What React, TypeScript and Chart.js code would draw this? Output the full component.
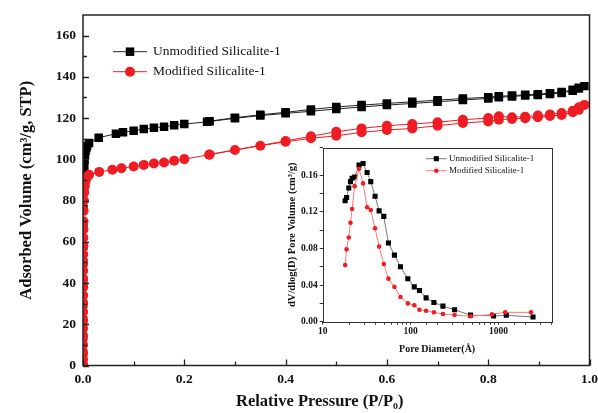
import React, { useEffect, useRef } from "react";
import { Chart, registerables } from "chart.js";

Chart.register(...registerables);

const SERIF = "'Liberation Serif', 'Times New Roman', Times, serif";

// ---------- Main plot: N2 adsorption / desorption isotherms ----------
const xTickValues = [0, 0.2, 0.4, 0.6, 0.8, 1.0];
const yTickValues = [0, 20, 40, 60, 80, 100, 120, 140, 160];
const seriesLabels = ["Unmodified Silicalite-1", "Modified Silicalite-1"];

const unmodAdsP = [0.00002, 0.00005, 0.0001, 0.00015, 0.0002, 0.0003, 0.0004, 0.0005, 0.0007, 0.0009, 0.0012, 0.0016, 0.002, 0.0025, 0.003, 0.004, 0.005, 0.0065, 0.008, 0.012, 0.031, 0.065, 0.079, 0.1, 0.12, 0.14, 0.16, 0.18, 0.2, 0.245, 0.3, 0.35, 0.4, 0.45, 0.5, 0.55, 0.6, 0.65, 0.7, 0.75, 0.8, 0.821, 0.847, 0.873, 0.898, 0.922, 0.945, 0.967, 0.979, 0.99];
const unmodAdsV = [1, 6, 14, 22, 30, 40, 50, 58, 68, 76, 84, 90, 94, 97, 99.5, 102, 104, 105.5, 106.5, 107.9, 110.5, 112.4, 113.1, 113.9, 114.7, 115.3, 115.8, 116.5, 117.1, 118.2, 119.9, 121.2, 122.3, 123.3, 124.4, 125.4, 126.3, 127.1, 127.9, 128.8, 129.5, 130.1, 130.5, 130.9, 131.2, 131.7, 132.2, 133.3, 134.3, 135.5];
const unmodDesP = [0.979, 0.967, 0.945, 0.922, 0.898, 0.873, 0.847, 0.821, 0.8, 0.75, 0.7, 0.65, 0.6, 0.55, 0.5, 0.45, 0.4, 0.35, 0.3, 0.25];
const unmodDesV = [134.7, 133.7, 132.6, 132.1, 131.6, 131.3, 130.9, 130.6, 130.1, 129.5, 128.7, 127.9, 127.1, 126.3, 125.4, 124.2, 122.8, 121.6, 120.2, 118.5];

const modAdsP = [0.00002, 0.00004, 0.00006, 0.00008, 0.0001, 0.00012, 0.00015, 0.00018, 0.00021, 0.00025, 0.0003, 0.00035, 0.0004, 0.00046, 0.00053, 0.0006, 0.0007, 0.0008, 0.001, 0.0013, 0.0018, 0.0025, 0.0035, 0.005, 0.007, 0.012, 0.032, 0.058, 0.076, 0.1, 0.12, 0.14, 0.16, 0.18, 0.2, 0.249, 0.3, 0.35, 0.4, 0.45, 0.5, 0.55, 0.6, 0.65, 0.7, 0.75, 0.8, 0.821, 0.847, 0.873, 0.898, 0.922, 0.945, 0.967, 0.979, 0.99];
const modAdsV = [0.5, 3, 6, 10, 14, 18, 22, 26, 30, 34, 38, 42, 46, 50, 54, 58, 62, 66, 70, 75, 80, 84, 87, 89.5, 91, 92.5, 93.9, 94.9, 95.7, 96.5, 97.3, 98, 98.5, 99.3, 100.1, 102.2, 104.5, 106.6, 108.5, 110.2, 111.4, 113.1, 114.2, 115.0, 116.3, 117.6, 118.4, 119.2, 119.6, 119.9, 120.4, 121.0, 121.5, 122.8, 124.0, 126.4];
const modDesP = [0.979, 0.967, 0.945, 0.922, 0.898, 0.873, 0.847, 0.821, 0.8, 0.75, 0.7, 0.65, 0.6, 0.55, 0.5, 0.45, 0.4, 0.25];
const modDesV = [125.3, 123.6, 122.5, 121.8, 121.2, 120.7, 120.4, 120.9, 120.0, 119.2, 118.0, 117.1, 116.3, 115.0, 113.4, 111.2, 108.9, 102.4];

// ---------- Inset: pore size distribution ----------
const insetXLabels = [10, 100, 1000];
const insetYLabels = [0, 0.04, 0.08, 0.12, 0.16];

const unmodPoreD = [18.0, 18.7, 19.8, 20.7, 21.6, 23.1, 25.9, 28.8, 32.0, 35.2, 39.4, 43.8, 49.5, 55.9, 65.4, 76.6, 92.9, 110, 126, 150, 184, 233, 316, 480, 877, 1225, 2466];
const unmodPoreV = [0.132, 0.1356, 0.146, 0.153, 0.1567, 0.158, 0.171, 0.1727, 0.163, 0.153, 0.137, 0.121, 0.115, 0.086, 0.0727, 0.06, 0.0469, 0.038, 0.034, 0.026, 0.021, 0.017, 0.013, 0.0072, 0.0062, 0.007, 0.0051];
const modPoreD = [18.0, 18.7, 19.8, 20.7, 21.6, 23.1, 25.9, 28.8, 32.0, 35.2, 39.4, 43.8, 49.5, 55.9, 65.4, 76.6, 92.9, 110, 126, 150, 184, 233, 316, 480, 841, 1191, 2340];
const modPoreV = [0.0618, 0.079, 0.092, 0.108, 0.123, 0.148, 0.167, 0.151, 0.125, 0.122, 0.102, 0.082, 0.063, 0.047, 0.038, 0.027, 0.02, 0.018, 0.013, 0.012, 0.0102, 0.0084, 0.0073, 0.0059, 0.0081, 0.0102, 0.0102];

const BLACK = "#000000";
const RED = "#f01c24";

function pts(xs: number[], ys: number[]) {
  return xs.map((x, i) => ({ x, y: ys[i] }));
}

type LegendCfg = { x0: number; x1: number; tx: number; y0: number; dy: number; size: number };

function legendPlugin(cfg: LegendCfg) {
  return {
    id: "seriesLegend",
    afterDraw(chart: any) {
      const ctx = chart.ctx as CanvasRenderingContext2D;
      chart.data.datasets.forEach((ds: any, i: number) => {
        const y = cfg.y0 + i * cfg.dy;
        ctx.save();
        ctx.strokeStyle = ds.borderColor;
        ctx.lineWidth = ds.borderWidth;
        ctx.beginPath();
        ctx.moveTo(cfg.x0, y);
        ctx.lineTo(cfg.x1, y);
        ctx.stroke();
        const mx = (cfg.x0 + cfg.x1) / 2;
        ctx.fillStyle = ds.pointBackgroundColor;
        const r = ds.pointRadius;
        if (ds.pointStyle === "rect") {
          const s = r * Math.SQRT1_2;
          ctx.fillRect(mx - s, y - s, 2 * s, 2 * s);
        } else {
          ctx.beginPath();
          ctx.arc(mx, y, r, 0, Math.PI * 2);
          ctx.fill();
        }
        ctx.fillStyle = "#111";
        ctx.font = `${cfg.size}px ${SERIF}`;
        ctx.textBaseline = "middle";
        ctx.textAlign = "left";
        ctx.fillText(ds.label, cfg.tx, y);
        ctx.restore();
      });
    },
  };
}

const mainFrame = {
  id: "mainFrame",
  afterDraw(chart: any) {
    const { ctx, chartArea: a } = chart;
    const xs = chart.scales.x;
    const ys = chart.scales.y;
    ctx.save();
    ctx.strokeStyle = "#222";
    ctx.lineWidth = 1.5;
    ctx.strokeRect(a.left, a.top, a.right - a.left, a.bottom - a.top);
    ctx.lineWidth = 1.3;
    ctx.beginPath();
    const xv: number[] = [];
    xTickValues.forEach((v, i) => {
      xv.push(v);
      if (i < xTickValues.length - 1) xv.push((v + xTickValues[i + 1]) / 2);
    });
    xv.forEach((v, i) => {
      const px = Math.round(xs.getPixelForValue(v)) + 0.5;
      const len = i % 2 === 0 ? 6 : 4;
      ctx.moveTo(px, a.bottom);
      ctx.lineTo(px, a.bottom - len);
    });
    const yv: number[] = [];
    yTickValues.forEach((v, i) => {
      yv.push(v);
      if (i < yTickValues.length - 1) yv.push((v + yTickValues[i + 1]) / 2);
    });
    yv.forEach((v, i) => {
      const py = Math.round(ys.getPixelForValue(v)) + 0.5;
      const len = i % 2 === 0 ? 6 : 4;
      ctx.moveTo(a.left, py);
      ctx.lineTo(a.left + len, py);
    });
    ctx.stroke();
    ctx.restore();
  },
};

const insetFrame = {
  id: "insetFrame",
  afterDraw(chart: any) {
    const { ctx, chartArea: a } = chart;
    ctx.save();
    ctx.strokeStyle = "#333";
    ctx.lineWidth = 1;
    ctx.strokeRect(Math.round(a.left) + 0.5, Math.round(a.top) + 0.5, Math.round(a.right - a.left), Math.round(a.bottom - a.top));
    ctx.restore();
  },
};

function fixX(h: number) {
  return (s: any) => {
    s.height = h;
    s.paddingLeft = 0;
    s.paddingRight = 0;
  };
}
function fixY(w: number) {
  return (s: any) => {
    s.width = w;
    s.paddingTop = 0;
    s.paddingBottom = 0;
  };
}

function mainConfig(): any {
  return {
    type: "scatter",
    data: {
      datasets: [
        {
          label: seriesLabels[0],
          data: pts([...unmodAdsP, ...unmodDesP], [...unmodAdsV, ...unmodDesV]),
          showLine: true,
          borderColor: "#222",
          borderWidth: 1,
          pointStyle: "rect",
          pointRadius: 6,
          pointBackgroundColor: BLACK,
          pointBorderColor: BLACK,
          pointBorderWidth: 0,
          tension: 0,
          order: 2,
        },
        {
          label: seriesLabels[1],
          data: pts([...modAdsP, ...modDesP], [...modAdsV, ...modDesV]),
          showLine: true,
          borderColor: RED,
          borderWidth: 1,
          pointStyle: "circle",
          pointRadius: 5,
          pointBackgroundColor: RED,
          pointBorderColor: RED,
          pointBorderWidth: 0,
          tension: 0,
          order: 1,
        },
      ],
    },
    options: {
      animation: false,
      responsive: false,
      maintainAspectRatio: false,
      events: [],
      layout: { padding: { left: 0, right: 8.5, top: 15, bottom: 0 } },
      plugins: { legend: { display: false }, tooltip: { enabled: false } },
      scales: {
        x: {
          type: "linear",
          min: 0,
          max: 1,
          afterFit: fixX(47.5),
          grid: { display: false, drawTicks: false },
          border: { display: false },
          ticks: {
            stepSize: 0.2,
            autoSkip: false,
            maxRotation: 0,
            padding: 6,
            color: "#111",
            font: { family: SERIF, size: 13.5, weight: "bold" },
            callback: (v: any) => Number(v).toFixed(1),
          },
          title: {
            display: true,
            // trailing spaces shift the centred title left, as in the original figure
            text: "Relative Pressure (P/P\u2080)        ",
            color: "#111",
            font: { family: SERIF, size: 16.5, weight: "bold" },
            padding: { top: 0, bottom: 1 },
          },
        },
        y: {
          type: "linear",
          min: 0,
          max: 170,
          afterFit: fixY(83),
          grid: { display: false, drawTicks: false },
          border: { display: false },
          ticks: {
            stepSize: 20,
            autoSkip: false,
            padding: 7,
            color: "#111",
            font: { family: SERIF, size: 13.5, weight: "bold" },
            callback: (v: any) => (yTickValues.includes(Number(v)) ? String(v) : ""),
          },
          title: {
            display: true,
            text: "Adsorbed Volume (cm\u00B3/g, STP)",
            color: "#111",
            font: { family: SERIF, size: 16.5, weight: "bold" },
            padding: { top: 17, bottom: 0 },
          },
        },
      },
    },
    plugins: [mainFrame, legendPlugin({ x0: 113, x1: 147, tx: 153, y0: 51.7, dy: 20, size: 13.5 })],
  };
}

function insetConfig(): any {
  return {
    type: "scatter",
    data: {
      datasets: [
        {
          label: seriesLabels[0],
          data: pts(unmodPoreD, unmodPoreV),
          showLine: true,
          borderColor: "#666",
          borderWidth: 0.9,
          pointStyle: "rect",
          pointRadius: 3.6,
          pointBackgroundColor: BLACK,
          pointBorderColor: BLACK,
          pointBorderWidth: 0,
          tension: 0,
          order: 2,
        },
        {
          label: seriesLabels[1],
          data: pts(modPoreD, modPoreV),
          showLine: true,
          borderColor: "#ff6a6a",
          borderWidth: 0.9,
          pointStyle: "circle",
          pointRadius: 2.3,
          pointBackgroundColor: RED,
          pointBorderColor: RED,
          pointBorderWidth: 0,
          tension: 0,
          order: 1,
        },
      ],
    },
    options: {
      animation: false,
      responsive: false,
      maintainAspectRatio: false,
      events: [],
      layout: { padding: { left: 0, right: 8.5, top: 9.7, bottom: 0 } },
      plugins: { legend: { display: false }, tooltip: { enabled: false } },
      scales: {
        x: {
          type: "logarithmic",
          min: 10,
          max: 4000,
          afterFit: fixX(41.3),
          grid: { display: true, drawOnChartArea: false, drawTicks: true, tickLength: 3, color: "#333", lineWidth: 1 },
          border: { display: false },
          ticks: {
            autoSkip: false,
            maxRotation: 0,
            padding: 1,
            color: "#111",
            font: { family: SERIF, size: 9.5, weight: "bold" },
            callback: (v: any) => {
              const n = Number(v);
              return insetXLabels.some((u) => Math.abs(u - n) < 1e-6) ? String(Math.round(n)) : "";
            },
          },
          title: {
            display: true,
            text: "Pore Diameter(\u00C5)",
            color: "#111",
            font: { family: SERIF, size: 10, weight: "bold" },
            padding: { top: 0, bottom: 8 },
          },
        },
        y: {
          type: "linear",
          min: 0,
          max: 0.19,
          afterFit: fixY(52.7),
          grid: { display: true, drawOnChartArea: false, drawTicks: true, tickLength: 3, color: "#333", lineWidth: 1 },
          border: { display: false },
          ticks: {
            stepSize: 0.02,
            autoSkip: false,
            padding: 2,
            color: "#111",
            font: { family: SERIF, size: 9.5, weight: "bold" },
            callback: (v: any) => {
              const n = Number(v);
              return insetYLabels.some((u) => Math.abs(u - n) < 1e-6) ? n.toFixed(2) : "";
            },
          },
          title: {
            display: true,
            text: "dV/dlog(D) Pore Volume (cm\u00B3/g)",
            color: "#111",
            font: { family: SERIF, size: 10.5, weight: "bold" },
            padding: { top: 15.7, bottom: 0 },
          },
        },
      },
    },
    plugins: [insetFrame, legendPlugin({ x0: 156, x1: 176.7, tx: 179, y0: 20.7, dy: 12, size: 9 })],
  };
}

export default function App() {
  const mainRef = useRef<HTMLCanvasElement>(null);
  const insetRef = useRef<HTMLCanvasElement>(null);

  useEffect(() => {
    const c1 = new Chart(mainRef.current as HTMLCanvasElement, mainConfig());
    const c2 = new Chart(insetRef.current as HTMLCanvasElement, insetConfig());
    return () => {
      c1.destroy();
      c2.destroy();
    };
  }, []);

  return (
    <div style={{ position: "absolute", left: 0, top: 0, width: 598, height: 413, background: "#fff", overflow: "hidden" }}>
      <canvas ref={mainRef} width={598} height={413} style={{ position: "absolute", left: 0, top: 0, width: 598, height: 413 }} />
      <canvas ref={insetRef} width={290} height={225} style={{ position: "absolute", left: 270, top: 138, width: 290, height: 225 }} />
    </div>
  );
}
